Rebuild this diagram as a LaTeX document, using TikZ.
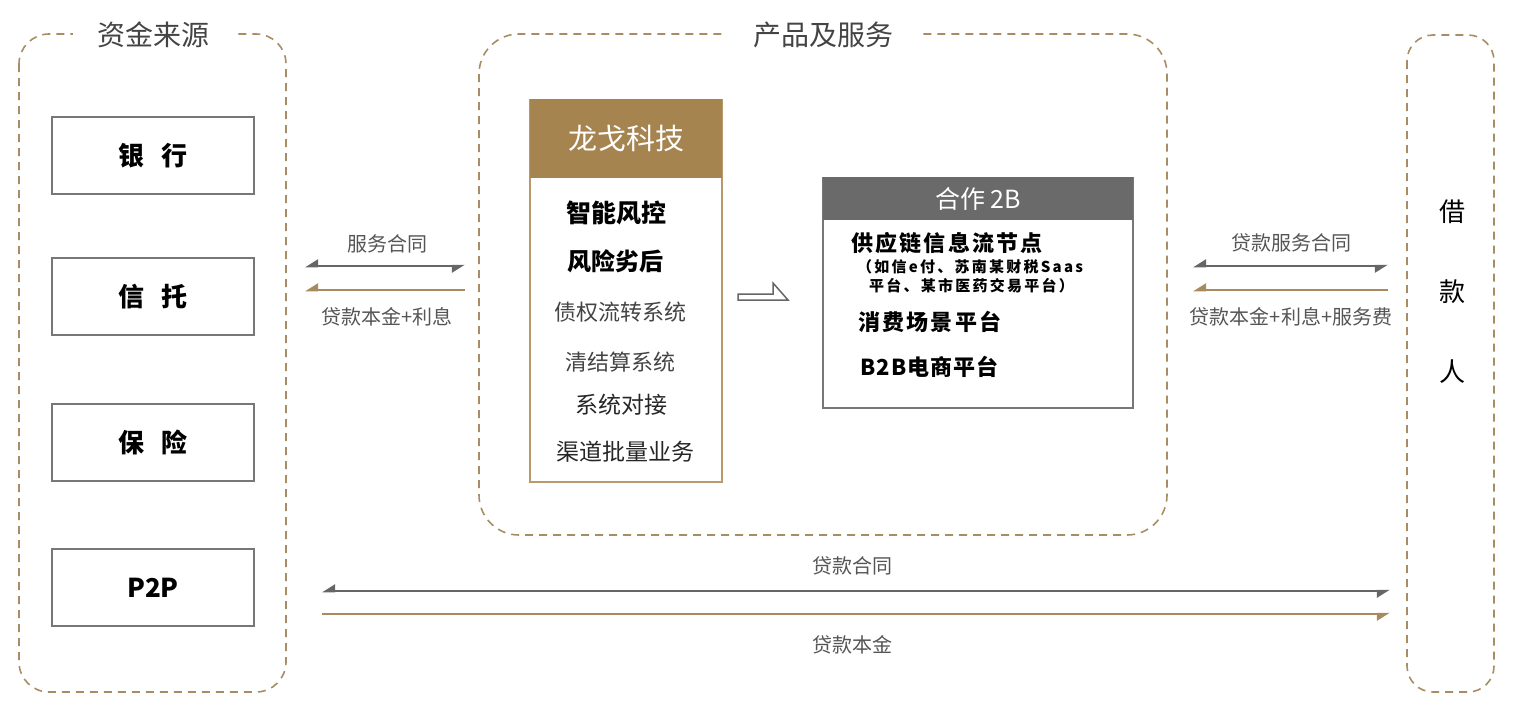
\documentclass[tikz,border=0pt]{standalone}
\usepackage{fontspec}
\setmainfont{Noto Sans CJK SC}
\usetikzlibrary{arrows.meta}
\definecolor{dashc}{HTML}{A88D64}
\definecolor{titlec}{HTML}{444444}
\definecolor{boxc}{HTML}{777777}
\definecolor{goldc}{HTML}{A5844F}
\definecolor{cardc}{HTML}{B89A6C}
\definecolor{hdgray}{HTML}{6A6A6A}
\definecolor{lgray}{HTML}{666666}
\definecolor{lbrown}{HTML}{A88A5E}
\definecolor{labc}{HTML}{555555}
\newcommand{\fs}[1]{\fontsize{#1}{#1}\selectfont}
\newcommand{\ls}[1]{\addfontfeature{LetterSpace=#1}}
\begin{document}
\begin{tikzpicture}[x=1pt,y=-1pt,
  group/.style={draw=dashc, line width=1.6pt, dash pattern=on 8pt off 6pt},
  gtitle/.style={fill=white, inner xsep=24pt, inner ysep=2pt, text=titlec, font=\fs{28}},
  srcbox/.style={draw=boxc, line width=2pt, minimum width=202pt, minimum height=77pt, inner sep=0pt, font=\fs{26}\bfseries},
  item/.style={inner sep=0pt},
  garrow/.style={draw=lgray, line width=2.5pt},
  barrow/.style={draw=lbrown, line width=2.5pt},
  lab/.style={text=labc, font=\fs{20}, inner sep=0pt}
]
\useasboundingbox (0,0) rectangle (1514,705);
% groups
\draw[group, rounded corners=30pt] (19,34) rectangle (286,692);
\draw[group, rounded corners=40pt] (479,34) rectangle (1167,535);
\draw[group, rounded corners=26pt] (1407,35) rectangle (1494,692);
\node[gtitle] (t1) at (153,35) {资金来源};
\node[gtitle, inner xsep=28pt] (t2) at (823,35) {产品及服务};
% sources
\node[srcbox] (bank) at (153,155.5) {银\hspace{18pt}行};
\node[srcbox] (trust) at (153,296.5) {信\hspace{18pt}托};
\node[srcbox] (ins) at (153,442.5) {保\hspace{18pt}险};
\node[srcbox] (p2p) at (153,587.5) {P2P};
% borrower
\node[item, font=\fs{26}] (b1) at (1452,212) {借};
\node[item, font=\fs{26}] (b2) at (1452,292) {款};
\node[item, font=\fs{26}] (b3) at (1452,372) {人};
% Longge card
\node[draw=cardc, line width=1.6pt, minimum width=192pt, minimum height=382pt, inner sep=0pt] (lg) at (626,291) {};
\node[fill=goldc, minimum width=192pt, minimum height=79pt, inner sep=0pt, anchor=north, text=white, font=\fs{29}] (lgh) at (lg.north) {龙戈科技};
\node[item, font=\fs{25}\bfseries] (i1) at (616,213) {智能风控};
\node[item, font=\fs{24}\bfseries] (i2) at (615,261) {风险劣后};
\node[item, font=\fs{22}, text=titlec] (i3) at (620,312) {债权流转系统};
\node[item, font=\fs{22}, text=titlec] (i4) at (620,362) {清结算系统};
\node[item, font=\fs{23}, text=black!85] (i5) at (621,405) {系统对接};
\node[item, font=\fs{23}, text=black!85] (i6) at (625,452) {渠道批量业务};
% hollow arrow
\coordinate (ha) at (738,300);
\draw[lgray, line width=1.5pt, line join=miter] (ha) -- ++(0,-6) -- ++(35,0) -- ++(0,-11) -- ++(15,17) -- cycle;
% cooperation card
\node[draw=boxc, line width=2pt, minimum width=310pt, minimum height=230pt, inner sep=0pt] (hz) at (978,293) {};
\node[fill=hdgray, minimum width=310pt, minimum height=43pt, inner sep=0pt, anchor=north, text=white, font=\fs{25}] (hzh) at (hz.north) {合作 2B};
\node[item, anchor=west, font=\fs{22}\bfseries\ls{10}, text=black] (c1) at (851,243) {供应链信息流节点};
\node[item, anchor=west, font=\fs{15}\bfseries\ls{15}, text=black] (c2) at (857,267) {（如信e付、苏南某财税Saas};
\node[item, anchor=west, font=\fs{15}\bfseries\ls{15}, text=black] (c3) at (869,286) {平台、某市医药交易平台）};
\node[item, anchor=west, font=\fs{22}\bfseries\ls{10}, text=black] (c4) at (858,322) {消费场景平台};
\node[item, anchor=west, font=\fs{22}\bfseries\ls{5}, text=black] (c5) at (860,367) {B2B电商平台};
% left arrows
\coordinate (la1) at (305,266); \coordinate (la2) at (465,266);
\coordinate (lb1) at (305,290); \coordinate (lb2) at (465,290);
\draw[garrow, {Triangle[harpoon,swap,length=11pt,width=13pt]}-{Triangle[harpoon,swap,length=11pt,width=13pt]}] (la1) -- (la2);
\draw[barrow, {Triangle[harpoon,swap,length=11pt,width=13pt]}-] (lb1) -- (lb2);
\node[lab] (l1) at (387,244) {服务合同};
\node[lab] (l2) at (387,317) {贷款本金+利息};
% right arrows
\coordinate (ra1) at (1193,266); \coordinate (ra2) at (1388,266);
\coordinate (rb1) at (1193,290); \coordinate (rb2) at (1388,290);
\draw[garrow, {Triangle[harpoon,swap,length=11pt,width=13pt]}-{Triangle[harpoon,swap,length=11pt,width=13pt]}] (ra1) -- (ra2);
\draw[barrow, {Triangle[harpoon,swap,length=11pt,width=13pt]}-] (rb1) -- (rb2);
\node[lab] (r1) at (1291,243) {贷款服务合同};
\node[lab] (r2) at (1291,317) {贷款本金+利息+服务费};
% bottom arrows
\coordinate (ba1) at (322,591); \coordinate (ba2) at (1390,591);
\coordinate (bb1) at (322,614); \coordinate (bb2) at (1390,614);
\draw[garrow, {Triangle[harpoon,swap,length=11pt,width=13pt]}-{Triangle[harpoon,swap,length=11pt,width=13pt]}] (ba1) -- (ba2);
\draw[barrow, -{Triangle[harpoon,swap,length=11pt,width=13pt]}] (bb1) -- (bb2);
\node[lab] (m1) at (852,566) {贷款合同};
\node[lab] (m2) at (852,645) {贷款本金};
\end{tikzpicture}
\end{document}
